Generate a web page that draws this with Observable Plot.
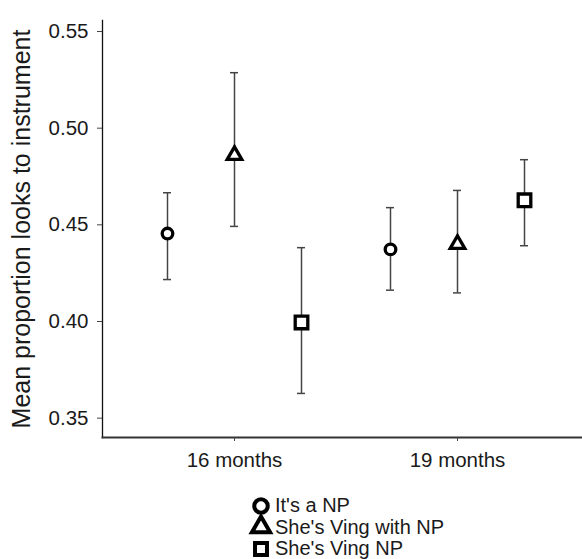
<!DOCTYPE html>
<html>
<head>
<meta charset="utf-8">
<script src="https://cdn.jsdelivr.net/npm/d3@7"></script>
<script src="https://cdn.jsdelivr.net/npm/@observablehq/plot@0.6"></script>
<style>
  html, body { margin: 0; padding: 0; background: #fff; font-family: "Liberation Sans", Arial, sans-serif; }
  #chart { width: 582px; color: #1a1a1a; }
  #chart svg text { font-family: "Liberation Sans", Arial, sans-serif; }
  #legend { margin: 10px 0 0 251px; }
  #legend div { font-family: "Liberation Sans", Arial, sans-serif !important; font-size: 20px !important; color: #1a1a1a; }
  #legend > div { margin: 0 !important; }
  #legend > div > div { height: 21.5px !important; line-height: 21.5px; padding: 0 !important; margin: 0 !important; }
  #legend svg { margin-right: 4px !important; overflow: visible; }
</style>
</head>
<body>
<div id="chart"></div>
<script>
// ---- data ----
const months = ["16 months", "19 months"];
const conditions = ["It's a NP", "She's Ving with NP", "She's Ving NP"];
const symbols = ["circle", "triangle", "square"];
// means per condition, for 16 and 19 months
const mean16 = [0.4455, 0.4860, 0.3995];
const mean19 = [0.4373, 0.4400, 0.4627];
const upper16 = [0.4666, 0.5287, 0.4382];
const lower16 = [0.4217, 0.4492, 0.3628];
const upper19 = [0.4589, 0.4678, 0.4837];
const lower19 = [0.4162, 0.4148, 0.4392];
const yTicks = [0.35, 0.40, 0.45, 0.50, 0.55];
const yLabel = "Mean proportion looks to instrument";

// table built from the arrays
const rows = [];
conditions.forEach((c, i) => {
  rows.push({month: months[0], condition: c, idx: i, mean: mean16[i], hi: upper16[i], lo: lower16[i]});
  rows.push({month: months[1], condition: c, idx: i, mean: mean19[i], hi: upper19[i], lo: lower19[i]});
});

const spacing = 67;       // horizontal offset between conditions within a month group
const markerR = [5.3, 5.4, 7.1];

const marks = [
  Plot.frame({anchor: "left", stroke: "#111", strokeWidth: 1.3}),
  Plot.frame({anchor: "bottom", stroke: "#333", strokeWidth: 2}),
  Plot.axisY({ticks: yTicks, tickFormat: d3.format(".2f"), tickSize: 5, tickPadding: 9, fontSize: 20.5, label: null, stroke: "#444"}),
  Plot.axisY({ticks: [], label: yLabel, labelAnchor: "center", labelArrow: "none", labelOffset: 90, fontSize: 25}),
  Plot.axisX({tickSize: 4, tickPadding: 11, fontSize: 20.5, label: null, stroke: "#444"})
];
conditions.forEach((c, i) => {
  const sub = rows.filter(d => d.idx === i);
  const dx = (i - 1) * spacing;
  marks.push(
    Plot.ruleX(sub, {x: "month", y1: "lo", y2: "hi", dx, stroke: "#444", strokeWidth: 1.5}),
    Plot.tickY(sub, {x: "month", y: "hi", dx, stroke: "#444", strokeWidth: 1.5}),
    Plot.tickY(sub, {x: "month", y: "lo", dx, stroke: "#444", strokeWidth: 1.5}),
    Plot.dot(sub, {x: "month", y: "mean", symbol: "condition", r: markerR[i], dx, fill: "white", stroke: "black", strokeWidth: 3.3})
  );
});

const chart = Plot.plot({
  width: 582,
  height: 485,
  marginLeft: 102,
  marginRight: 0,
  marginTop: 20,
  marginBottom: 48,
  style: "font-family: 'Liberation Sans', Arial, sans-serif; color: #1a1a1a; background: white;",
  x: {type: "band", domain: months, paddingInner: 0.964, paddingOuter: 0.558, align: 0.514, axis: null},
  y: {domain: [0.340, 0.5557], axis: null},
  symbol: {domain: conditions, range: symbols},
  marks
});

const legend = chart.legend("symbol", {
  columns: 1,
  r: 5.4,
  strokeWidth: 3.2,
  fill: "white",
  stroke: "black",
  swatchSize: 20
});

const host = document.getElementById("chart");
host.appendChild(chart);
const lgHost = document.createElement("div");
lgHost.id = "legend";
if (legend) lgHost.appendChild(legend);
host.appendChild(lgHost);
</script>
</body>
</html>
